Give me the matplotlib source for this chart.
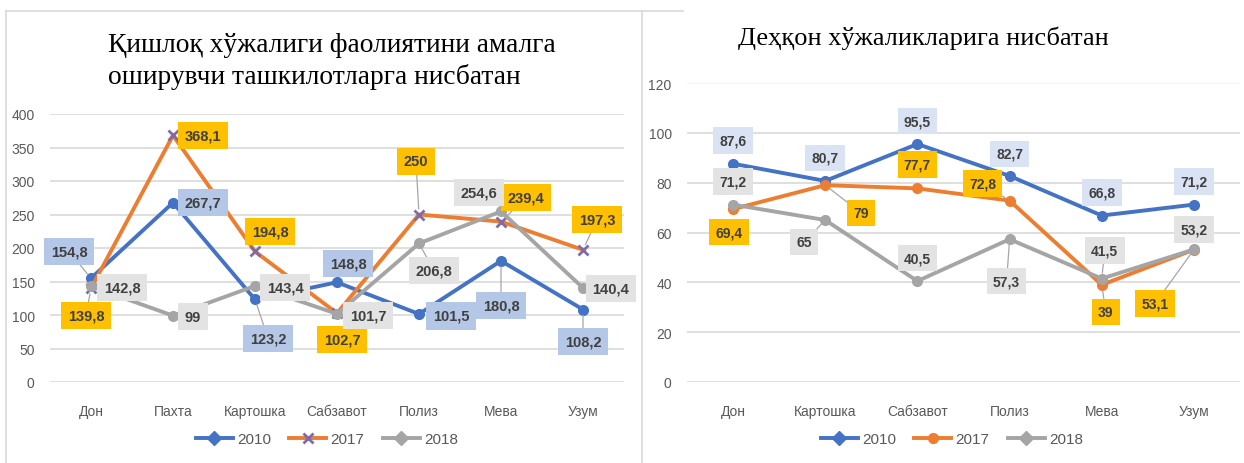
import matplotlib
matplotlib.use('Agg')
import matplotlib.pyplot as plt
from matplotlib.lines import Line2D

# ---- data ----
cats_left = ['Дон', 'Пахта', 'Картошка', 'Сабзавот', 'Полиз', 'Мева', 'Узум']
left_2010 = [154.8, 267.7, 123.2, 148.8, 101.5, 180.8, 108.2]
left_2017 = [139.8, 368.1, 194.8, 102.7, 250, 239.4, 197.3]
left_2018 = [142.8, 99, 143.4, 101.7, 206.8, 254.6, 140.4]

cats_right = ['Дон', 'Картошка', 'Сабзавот', 'Полиз', 'Мева', 'Узум']
right_2010 = [87.6, 80.7, 95.5, 82.7, 66.8, 71.2]
right_2017 = [69.4, 79, 77.7, 72.8, 39, 53.1]
right_2018 = [71.2, 65, 40.5, 57.3, 41.5, 53.2]

years = ['2010', '2017', '2018']
title_left = 'Қишлоқ хўжалиги фаолиятини амалга\nоширувчи ташкилотларга нисбатан'
title_right = 'Деҳқон хўжаликларига нисбатан'

# ---- label placement (pixel offsets, leader line flag) ----
off_left = {
    '2010': [(-22, 27, 1), (30, 0, 0), (13, -39, 1), (11, 19, 0), (32, -2, 0), (0, -45, 1), (0, -32, 1)],
    '2017': [(-5, -27, 1), (30, 0, 0), (15, 20, 0), (5, -26, 0), (-3, 53, 1), (25, 24, 1), (14, 30, 1)],
    '2018': [(31, -1, 0), (20, -1, 0), (30, -2, 0), (31, -2, 0), (15, -27, 1), (-22, 19, 0), (28, -1, 0)],
}
off_right = {
    '2010': [(0, 23, 0), (0, 23, 0), (0, 23, 0), (0, 22, 0), (0, 23, 0), (0, 23, 0)],
    '2017': [(-4, -23, 0), (36, -28, 1), (0, 24, 0), (-27, 17, 1), (4, -27, 1), (-39, -54, 1)],
    '2018': [(0, 23, 0), (-21, -22, 1), (0, 23, 0), (-3, -42, 1), (3, 28, 1), (0, 20, 0)],
}

line_col = {'2010': '#4472C4', '2017': '#ED7D31', '2018': '#A5A5A5'}
box_left = {'2010': '#B4C7E7', '2017': '#FFC000', '2018': '#E3E3E3'}
box_right = {'2010': '#DAE3F3', '2017': '#FFC000', '2018': '#E3E3E3'}

sans = ['Liberation Sans', 'DejaVu Sans']
serif = ['Liberation Serif', 'DejaVu Serif']

fig = plt.figure(figsize=(12.44, 4.64), dpi=100)
W, H = 1244.0, 464.0


def px_axes(x0, y_top, x1, y_bot):
    return fig.add_axes([x0 / W, 1 - y_bot / H, (x1 - x0) / W, (y_bot - y_top) / H])


def fmt(v):
    return ('%g' % v).replace('.', ',')


def draw_panel(ax, cats, series, offsets, boxes, ymax, ystep, markers, lblsize):
    x = list(range(len(cats)))
    for yr, vals in zip(years, series):
        mk, mcol = markers[yr]
        ax.plot(x, vals, color=line_col[yr], lw=2.8, marker=mk, ms=7,
                mfc=mcol, mec=mcol, mew=2 if mk == 'x' else 1, zorder=3)
    for yr, vals in zip(years, series):
        for i, v in enumerate(vals):
            dx, dy, lead = offsets[yr][i]
            ap = None
            if lead:
                ap = dict(arrowstyle='-', color='#A6A6A6', lw=0.9, shrinkA=0, shrinkB=4)
            ax.annotate(fmt(v), (i, v), xytext=(dx, dy), textcoords='offset pixels',
                        ha='center', va='center', fontsize=lblsize, fontweight='bold',
                        family=sans, color='#404040', zorder=5,
                        bbox=dict(boxstyle='square,pad=0.45', fc=boxes[yr], ec='none'),
                        arrowprops=ap, annotation_clip=False)
    ax.set_xlim(-0.5, len(cats) - 0.5)
    ax.set_ylim(0, ymax)
    ax.set_yticks(range(0, ymax + 1, ystep))
    ax.set_xticks(x)
    ax.set_xticklabels(cats, family=sans, fontsize=10, color='#595959')
    for t in ax.get_yticklabels():
        t.set_family(sans)
        t.set_fontsize(10)
        t.set_color('#595959')
    ax.tick_params(length=0)
    ax.tick_params(axis='x', pad=16)
    ax.tick_params(axis='y', pad=11)
    ax.grid(axis='y', color='#D9D9D9', lw=1.2)
    ax.set_axisbelow(True)
    for s in ax.spines.values():
        s.set_visible(False)
    ax.set_facecolor('none')


# left panel
axL = px_axes(50, 115, 624, 383)
draw_panel(axL, cats_left, [left_2010, left_2017, left_2018], off_left, box_left,
           400, 50, {'2010': ('o', '#4472C4'), '2017': ('x', '#7E6BA8'), '2018': ('o', '#A5A5A5')}, 10.5)

# right panel
axR = px_axes(687, 84, 1240, 383)
draw_panel(axR, cats_right, [right_2010, right_2017, right_2018], off_right, box_right,
           120, 20, {'2010': ('o', '#4472C4'), '2017': ('o', '#ED7D31'), '2018': ('o', '#A5A5A5')}, 10)
axR.get_ygridlines()[-1].set_color('#F4F4F4')

# panel borders
fig.add_artist(Line2D([6 / W, 6 / W], [0, 1 - 12 / H], color='#D9D9D9', lw=1.2))
fig.add_artist(Line2D([6 / W, 683 / W], [1 - 12 / H, 1 - 12 / H], color='#D9D9D9', lw=1.2))
fig.add_artist(Line2D([642 / W, 642 / W], [0, 1 - 12 / H], color='#D9D9D9', lw=1.2))

# titles
fig.text(108 / W, 1 - 61 / H, title_left, ha='left', va='center', fontsize=19.8,
         family=serif, color='black', linespacing=1.3)
fig.text(923 / W, 1 - 38 / H, title_right, ha='center', va='center', fontsize=19,
         family=serif, color='black')


# legends
def legend_for(markers, cx):
    hs = []
    for yr in years:
        mk, mcol = markers[yr]
        hs.append(Line2D([], [], color=line_col[yr], lw=2.8, marker=mk, ms=7,
                         mfc=mcol, mec=mcol, mew=2 if mk == 'x' else 1))
    fig.legend(hs, years, loc='center', bbox_to_anchor=(cx / W, 1 - 440 / H), ncol=3,
               frameon=False, prop={'family': sans, 'size': 11}, labelcolor='#595959',
               handlelength=2.4, handletextpad=0.3, columnspacing=1.2)


legend_for({'2010': ('D', '#4472C4'), '2017': ('x', '#7E6BA8'), '2018': ('D', '#A5A5A5')}, 327)
legend_for({'2010': ('D', '#4472C4'), '2017': ('o', '#ED7D31'), '2018': ('D', '#A5A5A5')}, 952)

fig.savefig('out.png', dpi=100, facecolor='white')
